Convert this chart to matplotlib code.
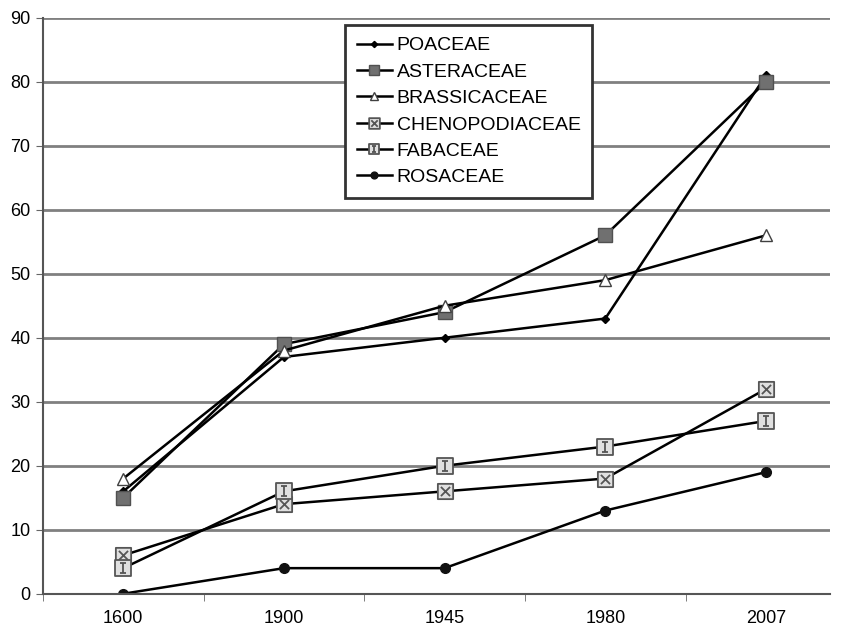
import numpy as np
import matplotlib
matplotlib.use("Agg")
import matplotlib.pyplot as plt
from matplotlib.path import Path

plt.rcParams['font.family'] = ['Liberation Sans', 'DejaVu Sans']

# data
years = ["1600", "1900", "1945", "1980", "2007"]
poaceae = [16, 37, 40, 43, 81]
asteraceae = [15, 39, 44, 56, 80]
brassicaceae = [18, 38, 45, 49, 56]
chenopodiaceae = [6, 14, 16, 18, 32]
fabaceae = [4, 16, 20, 23, 27]
rosaceae = [0, 4, 4, 13, 19]

# square-with-X marker and square-with-I marker
M, L, C = Path.MOVETO, Path.LINETO, Path.CLOSEPOLY
sq = [(-1, -1), (1, -1), (1, 1), (-1, 1), (-1, -1)]
sq_codes = [M, L, L, L, C]
x_marker = Path(sq + [(-0.6, -0.6), (0.6, 0.6), (-0.6, 0.6), (0.6, -0.6)],
                sq_codes + [M, L, M, L])
i_marker = Path(sq + [(0, -0.6), (0, 0.6), (-0.35, 0.6), (0.35, 0.6),
                      (-0.35, -0.6), (0.35, -0.6)],
                sq_codes + [M, L, M, L, M, L])

fig = plt.figure(figsize=(8.42, 6.33), dpi=100)
ax = fig.add_axes([0.051, 0.062, 0.935, 0.91])

x = np.arange(len(years))
lw = 1.8
ax.plot(x, poaceae, color='black', lw=lw, marker='D', ms=4.5,
        mfc='black', mec='black', label='POACEAE')
ax.plot(x, asteraceae, color='black', lw=lw, marker='s', ms=10,
        mfc='#707070', mec='#505050', label='ASTERACEAE')
ax.plot(x, brassicaceae, color='black', lw=lw, marker='^', ms=8,
        mfc='white', mec='#404040', mew=1, label='BRASSICACEAE')
ax.plot(x, chenopodiaceae, color='black', lw=lw, marker=x_marker, ms=11,
        mfc='#e0e0e0', mec='#555555', mew=1.3, label='CHENOPODIACEAE')
ax.plot(x, fabaceae, color='black', lw=lw, marker=i_marker, ms=11,
        mfc='#e0e0e0', mec='#555555', mew=1.3, label='FABACEAE')
ax.plot(x, rosaceae, color='black', lw=lw, marker='o', ms=7,
        mfc='#111111', mec='#111111', label='ROSACEAE')

ax.set_xlim(-0.5, 4.4)
ax.set_ylim(0, 90)
ax.set_yticks(np.arange(0, 91, 10))
ax.set_xticks(x)
ax.set_xticklabels(years)
ax.set_xticks(np.arange(-0.5, 4.5, 1), minor=True)
ax.tick_params(axis='x', which='major', length=0, pad=12, labelsize=13)
ax.tick_params(axis='x', which='minor', length=5, color='#666666')
ax.tick_params(axis='y', length=5, color='#666666', labelsize=13, pad=4)

ax.yaxis.grid(True, color='#808080', lw=2)
ax.set_axisbelow(True)
for s in ['top', 'right']:
    ax.spines[s].set_visible(False)
for s in ['left', 'bottom']:
    ax.spines[s].set_color('#555555')
    ax.spines[s].set_linewidth(1.5)

leg = ax.legend(loc='upper left', bbox_to_anchor=(0.384, 0.987), fontsize=14,
                frameon=True, fancybox=False, handlelength=1.8,
                handletextpad=0.25, labelspacing=0.45, borderpad=0.6,
                markerscale=0.7, borderaxespad=0)
leg.get_frame().set_edgecolor('#333333')
leg.get_frame().set_linewidth(2)
leg.get_frame().set_alpha(1)

fig.savefig('out.png', dpi=100)
